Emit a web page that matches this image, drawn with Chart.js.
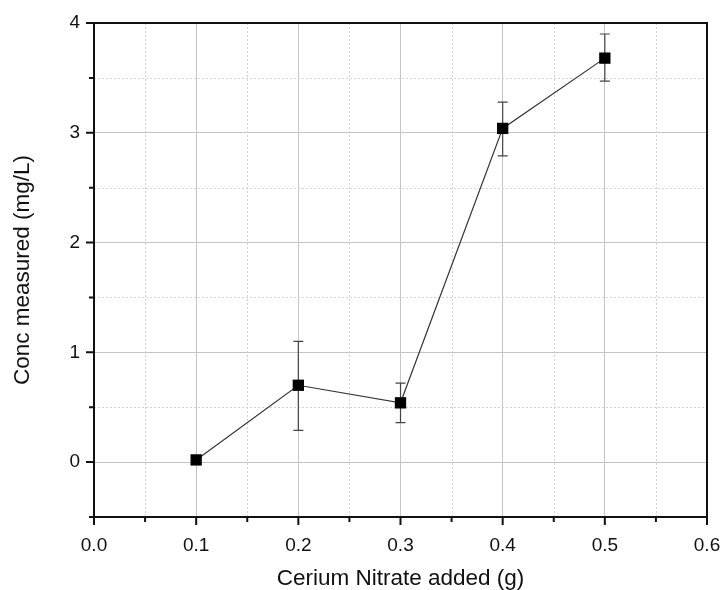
<!DOCTYPE html>
<html><head><meta charset="utf-8">
<script src="https://cdn.jsdelivr.net/npm/chart.js@4"></script>
<style>html,body{margin:0;padding:0;background:#fff}#wrap{width:722px;height:590px;position:relative}</style>
</head><body><div id="wrap"><canvas id="c"></canvas></div>
<script>
const ceriumAdded = [0.1, 0.2, 0.3, 0.4, 0.5];
const concMeasured = [0.02, 0.70, 0.54, 3.04, 3.68];
const errPlus = [0.00, 0.40, 0.18, 0.24, 0.22];
const errMinus = [0.00, 0.41, 0.18, 0.25, 0.21];
const xTickLabels = ['0.0', '0.1', '0.2', '0.3', '0.4', '0.5', '0.6'];
const yTickLabels = ['0', '1', '2', '3', '4'];
const xTitle = 'Cerium Nitrate added (g)';
const yTitle = 'Conc measured (mg/L)';

const FONT = "'Liberation Sans', Arial, sans-serif";
const isMajorX = v => Math.abs(v * 10 - Math.round(v * 10)) < 1e-6;
const isMajorY = v => Math.abs(v - Math.round(v)) < 1e-6;

const decor = {
  id: 'decor',
  beforeDatasetsDraw(chart) {
    const {ctx, chartArea: a, scales: {x, y}} = chart;
    ctx.save();
    ctx.strokeStyle = '#d2d2d2';
    ctx.lineWidth = 1;
    ctx.setLineDash([2, 2]);
    x.ticks.forEach(t => {
      if (isMajorX(t.value)) return;
      const px = Math.round(x.getPixelForValue(t.value)) + 0.5;
      ctx.beginPath(); ctx.moveTo(px, a.top); ctx.lineTo(px, a.bottom); ctx.stroke();
    });
    y.ticks.forEach(t => {
      if (isMajorY(t.value)) return;
      const py = Math.round(y.getPixelForValue(t.value)) + 0.5;
      ctx.beginPath(); ctx.moveTo(a.left, py); ctx.lineTo(a.right, py); ctx.stroke();
    });
    ctx.setLineDash([]);
    ctx.strokeStyle = '#444';
    ctx.lineWidth = 1.2;
    ceriumAdded.forEach((v, i) => {
      if (errPlus[i] + errMinus[i] <= 0) return;
      const px = x.getPixelForValue(v);
      const top = y.getPixelForValue(concMeasured[i] + errPlus[i]);
      const bot = y.getPixelForValue(concMeasured[i] - errMinus[i]);
      ctx.beginPath();
      ctx.moveTo(px, top); ctx.lineTo(px, bot);
      ctx.moveTo(px - 5, top); ctx.lineTo(px + 5, top);
      ctx.moveTo(px - 5, bot); ctx.lineTo(px + 5, bot);
      ctx.stroke();
    });
    ctx.restore();
  },
  afterDraw(chart) {
    const {ctx, chartArea: a, scales: {x, y}} = chart;
    ctx.save();
    ctx.strokeStyle = '#111';
    ctx.lineWidth = 2;
    ctx.strokeRect(a.left, a.top, a.right - a.left, a.bottom - a.top);
    ctx.beginPath();
    x.ticks.forEach(t => {
      const px = x.getPixelForValue(t.value);
      const len = isMajorX(t.value) ? 8 : 5;
      ctx.moveTo(px, a.bottom); ctx.lineTo(px, a.bottom + len);
    });
    y.ticks.forEach(t => {
      const py = y.getPixelForValue(t.value);
      const len = isMajorY(t.value) ? 8 : 5;
      ctx.moveTo(a.left, py); ctx.lineTo(a.left - len, py);
    });
    ctx.stroke();
    ctx.restore();
  }
};

new Chart(document.getElementById('c'), {
  type: 'line',
  data: {
    datasets: [{
      data: ceriumAdded.map((v, i) => ({x: v, y: concMeasured[i]})),
      borderColor: '#333',
      borderWidth: 1.2,
      backgroundColor: '#000',
      pointStyle: 'rect',
      pointRadius: 8,
      pointBorderWidth: 0,
      pointBackgroundColor: '#000',
      tension: 0,
      fill: false
    }]
  },
  options: {
    responsive: true,
    maintainAspectRatio: false,
    animation: false,
    layout: {padding: {top: 23, right: 15, left: 0, bottom: 0}},
    plugins: {legend: {display: false}, tooltip: {enabled: false}},
    scales: {
      x: {
        type: 'linear', min: 0, max: 0.6,
        afterFit(s) { s.height = 73; s.paddingLeft = 0; s.paddingRight = 0; },
        ticks: {
          stepSize: 0.05, maxTicksLimit: 30, autoSkip: false, maxRotation: 0,
          padding: 17, color: '#111', font: {family: FONT, size: 19},
          callback: v => isMajorX(v) ? xTickLabels[Math.round(v * 10)] : ''
        },
        grid: {
          drawTicks: false,
          color: c => (c.tick && isMajorX(c.tick.value)) ? '#c4c4c4' : 'rgba(0,0,0,0)',
          lineWidth: 1
        },
        border: {display: false},
        title: {display: true, text: xTitle, color: '#111', font: {family: FONT, size: 22.5, lineHeight: 1}, padding: {top: 0, bottom: 0}}
      },
      y: {
        type: 'linear', min: -0.5, max: 4,
        afterFit(s) { s.width = 94; s.paddingTop = 0; s.paddingBottom = 0; },
        ticks: {
          stepSize: 0.5, maxTicksLimit: 30, autoSkip: false,
          padding: 14, color: '#111', font: {family: FONT, size: 19},
          callback: v => (isMajorY(v) && v >= 0) ? yTickLabels[Math.round(v)] : ''
        },
        grid: {
          drawTicks: false,
          color: c => (c.tick && isMajorY(c.tick.value)) ? '#c4c4c4' : 'rgba(0,0,0,0)',
          lineWidth: 1
        },
        border: {display: false},
        title: {display: true, text: yTitle, color: '#111', font: {family: FONT, size: 22.5, lineHeight: 1}, padding: {top: 11.5, bottom: 0}}
      }
    }
  },
  plugins: [decor]
});
</script>
</body></html>
